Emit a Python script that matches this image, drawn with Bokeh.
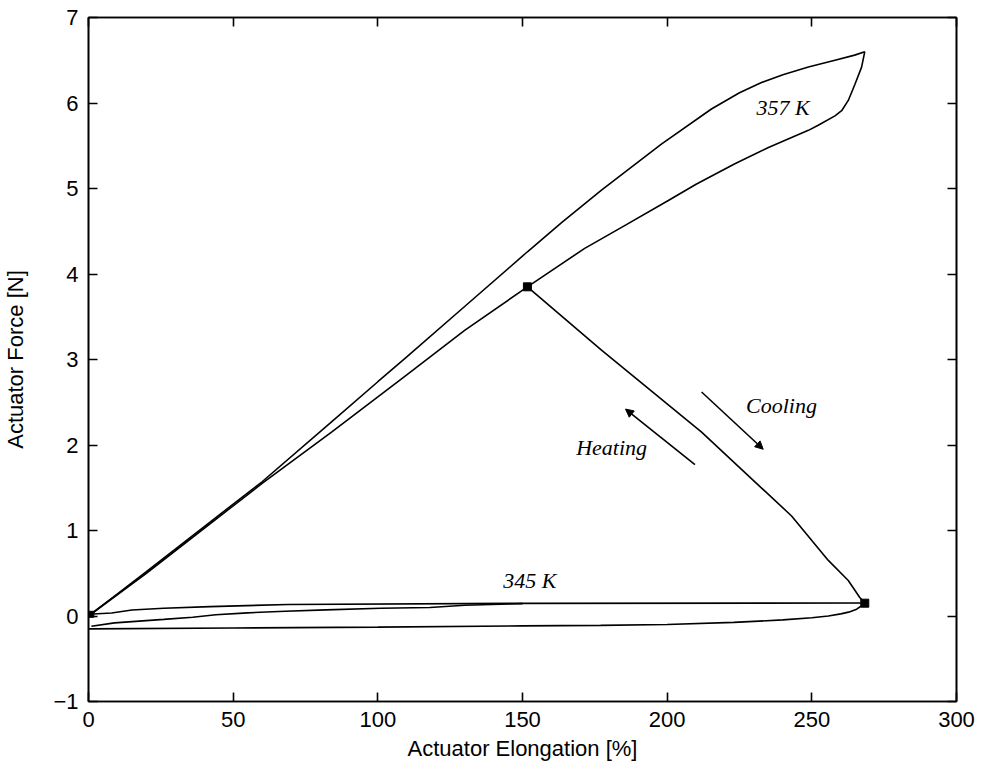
from bokeh.plotting import figure
from bokeh.models import Range1d, LinearAxis, FixedTicker, Arrow, NormalHead, Label
from bokeh.embed import file_html
from bokeh.resources import INLINE

# ---- data ----
x_ticks = [0, 50, 100, 150, 200, 250, 300]
y_ticks = [-1, 0, 1, 2, 3, 4, 5, 6, 7]

# 357 K loop, upper branch
hot_up_x = [0, 10, 20, 39, 60, 84, 100, 110, 130, 151.7, 163.5, 177.3, 198, 215.3, 225, 232.6, 240, 248.8, 258, 264.8, 268.3]
hot_up_y = [0, 0.26, 0.52, 1.02, 1.57, 2.27, 2.74, 3.03, 3.62, 4.26, 4.6, 4.98, 5.52, 5.93, 6.12, 6.24, 6.33, 6.42, 6.5, 6.56, 6.6]
# 357 K loop, lower branch
hot_dn_x = [268.3, 267.2, 264.9, 262.6, 260.3, 258, 252.2, 248.8, 235, 223.4, 210, 200.4, 185, 171.5, 151.7, 130, 110, 84, 60, 39, 20, 0]
hot_dn_y = [6.6, 6.42, 6.22, 6.03, 5.91, 5.85, 5.74, 5.68, 5.48, 5.29, 5.05, 4.86, 4.56, 4.30, 3.85, 3.34, 2.82, 2.15, 1.55, 1.0, 0.5, 0]

# transition path (cooling / heating)
path_x = [151.7, 177.3, 211.9, 243, 255.7, 262.6, 266.5, 268.3]
path_y = [3.85, 3.11, 2.15, 1.17, 0.65, 0.415, 0.22, 0.15]

# 345 K loop
cold_top_x = [0, 8, 15, 26, 42, 69, 150, 268.3]
cold_top_y = [0.02, 0.035, 0.07, 0.09, 0.11, 0.135, 0.148, 0.152]
cold_mid_x = [1, 9, 26, 36, 44, 55, 68, 82, 101, 118, 130, 150]
cold_mid_y = [-0.12, -0.08, -0.04, -0.014, 0.014, 0.037, 0.056, 0.072, 0.09, 0.10, 0.125, 0.145]
cold_low_x = [0, 50, 100, 150, 177, 200, 223, 240, 250, 255.7, 260, 262.7, 265.5, 267.2, 268.3]
cold_low_y = [-0.15, -0.14, -0.13, -0.115, -0.11, -0.10, -0.075, -0.045, -0.02, 0.0, 0.025, 0.045, 0.08, 0.12, 0.15]

# square markers
mark_x = [151.7, 268.3]
mark_y = [3.85, 0.15]
origin_x = [0.8]
origin_y = [0.02]

# arrows (start, end)
heat_arrow = [(209.6, 1.77), (185.6, 2.42)]
cool_arrow = [(211.9, 2.62), (233.2, 1.95)]

# annotations
labels = ["357 K", "345 K", "Cooling", "Heating"]
label_x = [240.1, 152.5, 239.5, 180.8]
label_y = [5.95, 0.41, 2.46, 1.97]

# ---- figure ----
p = figure(frame_width=868, frame_height=684,
           x_range=Range1d(0, 300), y_range=Range1d(-1, 7),
           output_backend="svg", toolbar_location=None,
           min_border_left=87, min_border_right=29,
           min_border_top=17, min_border_bottom=74)
p.background_fill_color = "white"
p.border_fill_color = "white"
p.outline_line_color = "black"
p.outline_line_width = 1.6
p.xgrid.visible = False
p.ygrid.visible = False

LINE = dict(line_color="black", line_width=1.6)
p.line(hot_up_x, hot_up_y, **LINE)
p.line(hot_dn_x, hot_dn_y, **LINE)
p.line(path_x, path_y, **LINE)
p.line(cold_top_x, cold_top_y, **LINE)
p.line(cold_mid_x, cold_mid_y, **LINE)
p.line(cold_low_x, cold_low_y, **LINE)
p.scatter(mark_x, mark_y, marker="square", size=8, color="black")
p.scatter(origin_x, origin_y, marker="square", size=6, color="black")

for (xs, ys), (xe, ye) in [heat_arrow, cool_arrow]:
    p.add_layout(Arrow(end=NormalHead(size=8, fill_color="black", line_color="black"),
                       x_start=xs, y_start=ys, x_end=xe, y_end=ye,
                       line_color="black", line_width=1.6))

for t, lx, ly in zip(labels, label_x, label_y):
    p.add_layout(Label(x=lx, y=ly, text=t, text_align="center", text_baseline="middle",
                       text_font="Liberation Serif", text_font_style="italic",
                       text_font_size="22px", text_color="black"))

def style_axis(ax, show_labels):
    ax.major_tick_in = 9
    ax.major_tick_out = 0
    ax.minor_tick_line_color = None
    ax.axis_line_color = "black"
    ax.axis_line_width = 1.6
    ax.major_tick_line_color = "black"
    ax.major_tick_line_width = 1.6
    if show_labels:
        ax.major_label_text_font = "Liberation Sans"
        ax.major_label_text_font_size = "22px"
        ax.major_label_text_color = "black"
        ax.major_label_standoff = 10
        ax.axis_label_text_font = "Liberation Sans"
        ax.axis_label_text_font_size = "22px"
        ax.axis_label_text_font_style = "normal"
        ax.axis_label_text_color = "black"
    else:
        ax.major_label_text_font_size = "1px"
        ax.major_label_text_color = None
        ax.major_label_standoff = 0

p.xaxis.ticker = FixedTicker(ticks=x_ticks)
p.yaxis.ticker = FixedTicker(ticks=y_ticks)
p.xaxis.axis_label = "Actuator Elongation [%]"
p.yaxis.axis_label = "Actuator Force [N]"
style_axis(p.xaxis[0], True)
style_axis(p.yaxis[0], True)
p.xaxis.axis_label_standoff = 6
p.yaxis.axis_label_standoff = 22

top = LinearAxis(ticker=FixedTicker(ticks=x_ticks))
right = LinearAxis(ticker=FixedTicker(ticks=y_ticks))
style_axis(top, False)
style_axis(right, False)
p.add_layout(top, "above")
p.add_layout(right, "right")

open("out.html", "w").write(file_html(p, INLINE))
